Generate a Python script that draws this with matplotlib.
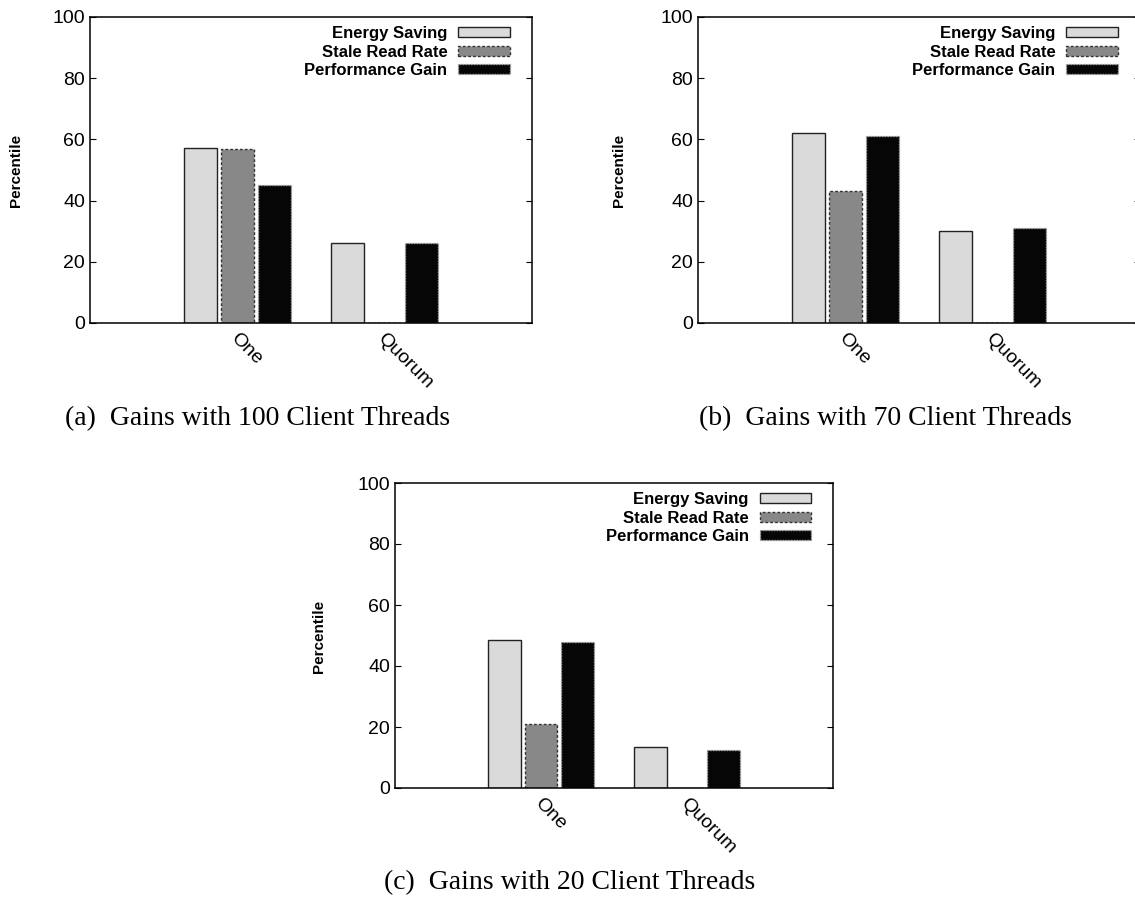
import matplotlib
matplotlib.use("Agg")
import matplotlib.pyplot as plt
import matplotlib.transforms as mtransforms
import numpy as np

# --- values (percent) ---
categories = ["One", "Quorum"]
series_names = ["Energy Saving", "Stale Read Rate", "Performance Gain"]

energy_100 = [57.2, 26.0]
stale_100 = [57.0, 0.0]
perf_100 = [45.2, 26.0]

energy_70 = [62.1, 30.1]
stale_70 = [43.0, 0.0]
perf_70 = [61.0, 31.0]

energy_20 = [48.6, 13.5]
stale_20 = [21.0, 0.0]
perf_20 = [47.9, 12.5]

captions = ["(a)  Gains with 100 Client Threads",
            "(b)  Gains with 70 Client Threads",
            "(c)  Gains with 20 Client Threads"]
y_ticks = [0, 20, 40, 60, 80, 100]

plt.rcParams["font.family"] = ["Liberation Sans", "DejaVu Sans"]

W, H = 1135, 900
fig = plt.figure(figsize=(W / 100, H / 100), dpi=100)

# bar styles (gnuplot-ish)
styles = [
    dict(facecolor="#dadada", edgecolor="#222222", linestyle="-"),
    dict(facecolor="#888888", edgecolor="#333333", linestyle=(0, (2, 1.5))),
    dict(facecolor="#060606", edgecolor="#aaaaaa", linestyle=(0, (1, 1))),
]


def px_axes(left, right, top, bottom):
    # pixel box -> figure fraction
    return fig.add_axes([left / W, 1 - bottom / H, (right - left) / W, (bottom - top) / H])


def draw_panel(ax, series):
    x = np.arange(len(categories))
    bw = 0.225
    offs = [-0.25, 0.0, 0.25]
    for vals, off, st, name in zip(series, offs, styles, series_names):
        ax.bar(x + off, vals, bw, linewidth=1.0, label=name, **st)
    ax.set_xlim(-1, 2)
    ax.set_ylim(0, 100)
    ax.set_yticks(y_ticks)
    ax.set_xticks(x)
    ax.set_xticklabels(categories, rotation=-45, ha="left", va="center",
                       rotation_mode="anchor")
    ax.tick_params(axis="x", length=0, pad=9, labelsize=14)
    ax.tick_params(axis="y", direction="in", length=4, width=0.8, right=True,
                   labelsize=14, pad=3.5)
    # nudge rotated category labels a little to the left
    shift = mtransforms.ScaledTranslation(-3 / 72, 0, fig.dpi_scale_trans)
    for lab in ax.get_xticklabels():
        lab.set_transform(lab.get_transform() + shift)
    for s in ax.spines.values():
        s.set_linewidth(1.1)
    ax.legend(loc="upper right", bbox_to_anchor=(1 - 22 / 442, 1 - 9 / 306),
              frameon=False, markerfirst=False, borderpad=0, borderaxespad=0,
              handlelength=3.1, handleheight=0.55, handletextpad=0.65,
              labelspacing=0.22, prop=dict(size=12, weight="bold"))


ax_a = px_axes(90, 532, 17, 323)
draw_panel(ax_a, [energy_100, stale_100, perf_100])
ax_b = px_axes(698, 1140, 17, 323)
draw_panel(ax_b, [energy_70, stale_70, perf_70])
ax_c = px_axes(395, 833, 483, 788)
draw_panel(ax_c, [energy_20, stale_20, perf_20])

# y labels
for xp, yp in [(16, 170), (619, 170), (319, 636)]:
    fig.text(xp / W, 1 - yp / H, "Percentile", rotation=90, ha="center", va="center",
             fontsize=11, fontweight="bold")

# captions
for (xp, yp), cap in zip([(258, 419), (885, 419), (570, 883)], captions):
    fig.text(xp / W, 1 - yp / H, cap, ha="center", va="center",
             fontsize=20, family=["Liberation Serif", "DejaVu Serif"])

fig.savefig("out.png", dpi=100)
